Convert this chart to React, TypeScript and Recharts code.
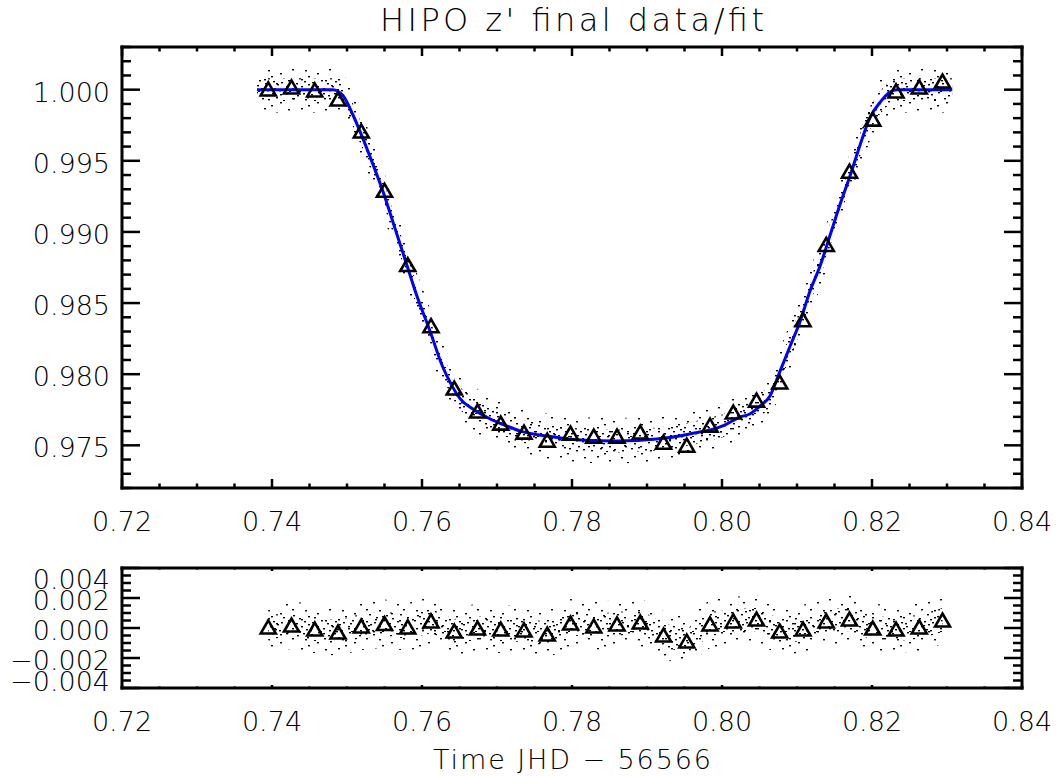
import React from "react";
import { Area, ComposedChart, Line, Scatter, XAxis, YAxis } from "recharts";

// binned points (triangles)
const binTime = [
    0.7395, 0.7426, 0.7457, 0.7488, 0.7519, 0.755, 0.7581, 0.7612, 0.7643, 0.7674,
    0.7705, 0.7736, 0.7767, 0.7798, 0.7829, 0.786, 0.7891, 0.7922, 0.7953, 0.7984,
    0.8015, 0.8046, 0.8077, 0.8108, 0.8139, 0.817, 0.8201, 0.8232, 0.8263, 0.8294,
];
const binFlux = [
    1.00005, 1.00019, 0.99998, 0.99934, 0.99709, 0.99293, 0.98771, 0.98341, 0.97903, 0.97741,
    0.97656, 0.97593, 0.97536, 0.97586, 0.97565, 0.97565, 0.97593, 0.97522, 0.97501, 0.97642,
    0.97734, 0.97818, 0.97945, 0.98383, 0.98912, 0.99427, 0.99793, 0.99991, 1.00019, 1.00061,
];
const binResid = [
    0.00007, 0.0002, -0.00007, -0.00027, 0.00013, 0.0003, 0.00007, 0.00047, -0.0002, 0.0,
    -0.00007, -0.00013, -0.0004, 0.00033, 0.00013, 0.00027, 0.0004, -0.00047, -0.00087, 0.00027,
    0.00047, 0.0006, -0.0002, -0.00007, 0.00047, 0.0006, 0.0, -0.00007, 0.00007, 0.00053,
];

// fitted model (blue curve)
const modelTime = [
    0.738, 0.7481, 0.7495, 0.7508, 0.7521, 0.7535, 0.7548, 0.7564, 0.758, 0.7593,
    0.7611, 0.7627, 0.764, 0.7651, 0.7668, 0.7691, 0.7713, 0.7731, 0.7767, 0.7811,
    0.786, 0.7913, 0.7957, 0.8001, 0.8024, 0.8037, 0.8051, 0.8064, 0.8077, 0.8091,
    0.8104, 0.8117, 0.8131, 0.8144, 0.8157, 0.8171, 0.8184, 0.8197, 0.8211, 0.8224,
    0.8233, 0.8307,
];
const modelFlux = [
    1.0, 1.0, 0.99956, 0.99822, 0.99659, 0.99469, 0.99285, 0.99025, 0.98764, 0.98553,
    0.98299, 0.98059, 0.97918, 0.97827, 0.97755, 0.97685, 0.97636, 0.976, 0.97565, 0.97537,
    0.9753, 0.97544, 0.9758, 0.97636, 0.97699, 0.9772, 0.97777, 0.97847, 0.98016, 0.982,
    0.98369, 0.9858, 0.98764, 0.98975, 0.99187, 0.99398, 0.9961, 0.998, 0.99913, 0.99984,
    1.0, 1.0,
];

// spread of the raw points around the curve (dense core / sparse outer)
const scatterCore = 0.0008;
const scatterOuter = 0.0016;

const xTicks = [
    0.72, 0.725, 0.73, 0.735, 0.74, 0.745, 0.75, 0.755, 0.76, 0.765, 0.77, 0.775, 0.78,
    0.785, 0.79, 0.795, 0.8, 0.805, 0.81, 0.815, 0.82, 0.825, 0.83, 0.835, 0.84,
];
const fluxTicks = [
    0.972, 0.973, 0.974, 0.975, 0.976, 0.977, 0.978, 0.979, 0.98, 0.981, 0.982, 0.983,
    0.984, 0.985, 0.986, 0.987, 0.988, 0.989, 0.99, 0.991, 0.992, 0.993, 0.994, 0.995,
    0.996, 0.997, 0.998, 0.999, 1.0, 1.001, 1.002, 1.003,
];
const residTicks = [
    -0.004, -0.0035, -0.003, -0.0025, -0.002, -0.0015, -0.001, -0.0005, 0, 0.0005, 0.001,
    0.0015, 0.002, 0.0025, 0.003, 0.0035, 0.004,
];

const FONT = "'DejaVu Sans', sans-serif";
const INK = "#000";

const modelRows = modelTime.map((t, i) => ({
    x: t,
    y: modelFlux[i],
    core: [modelFlux[i] - scatterCore, modelFlux[i] + scatterCore],
    outer: [modelFlux[i] - scatterOuter, modelFlux[i] + scatterOuter],
}));
const binRows = binTime.map((t, i) => ({ x: t, y: binFlux[i] }));
const residRows = binTime.map((t, i) => ({
    x: t,
    y: binResid[i],
    core: [binResid[i] - scatterCore, binResid[i] + scatterCore],
    outer: [binResid[i] - scatterOuter, binResid[i] + scatterOuter],
}));

// texture for the point cloud
const coreDots = [
    [1, 2], [8, 0], [18, 3], [24, 1], [4, 8], [14, 6], [20, 9], [28, 5], [2, 13], [11, 11],
    [17, 14], [25, 12], [7, 17], [13, 19], [22, 17], [29, 15], [0, 21], [10, 22], [19, 21], [27, 20],
];
const sparseDots = [
    [3, 4], [15, 1], [27, 6], [9, 12], [21, 15], [33, 11], [5, 21], [17, 25], [29, 22], [35, 27], [12, 18],
];

function onStep(v: number, step: number) {
    const r = v / step;
    return Math.abs(r - Math.round(r)) < 1e-6;
}

function fmtY(v: number) {
    if (Math.abs(v) < 1e-9) return "0.000";
    return v < 0 ? "\u2212" + Math.abs(v).toFixed(3) : v.toFixed(3);
}

function xTick(side: "top" | "bottom", majorLen: number, minorLen: number, label: boolean) {
    return (p: any) => {
        const v = p.payload.value;
        const major = onStep(v, 0.02);
        const len = major ? majorLen : minorLen;
        const dir = side === "bottom" ? -1 : 1;
        return (
            <g>
                <line x1={p.x} x2={p.x} y1={p.y} y2={p.y + dir * len} stroke={INK} strokeWidth={2.5} />
                {label && major && (
                    <text x={p.x} y={p.y + 43} textAnchor="middle" fontSize={27} fontWeight={200} fontFamily={FONT} fill={INK}>
                        {v.toFixed(2)}
                    </text>
                )}
            </g>
        );
    };
}

function yTick(side: "left" | "right", majorStep: number, label: boolean, edge?: number) {
    return (p: any) => {
        const v = p.payload.value;
        const major = onStep(v, majorStep);
        const len = major ? 18 : 9;
        const dir = side === "left" ? 1 : -1;
        let dy = 12;
        if (edge !== undefined && Math.abs(v - edge) < 1e-9) dy = 21;
        if (edge !== undefined && Math.abs(v + edge) < 1e-9) dy = 3;
        return (
            <g>
                <line x1={p.x} x2={p.x + dir * len} y1={p.y} y2={p.y} stroke={INK} strokeWidth={2.5} />
                {label && major && (
                    <text x={p.x - 12} y={p.y + dy} textAnchor="end" fontSize={27} fontWeight={200} fontFamily={FONT} fill={INK}>
                        {fmtY(v)}
                    </text>
                )}
            </g>
        );
    };
}

function Triangle(props: any) {
    const { cx, cy } = props;
    if (cx == null || cy == null) return null;
    return (
        <path
            d={`M${cx - 7.5},${cy + 6.5} L${cx},${cy - 6.5} L${cx + 7.5},${cy + 6.5} Z`}
            fill="none"
            stroke={INK}
            strokeWidth={2.6}
            strokeLinejoin="miter"
        />
    );
}

const frame = { stroke: INK, strokeWidth: 3, strokeLinecap: "square" as const };

function Cloud() {
    return (
        <>
            <Area dataKey="outer" type="linear" stroke="none" fill="url(#cloudSparse)" fillOpacity={1} dot={false} activeDot={false} isAnimationActive={false} />
            <Area dataKey="core" type="linear" stroke="none" fill="url(#cloudCore)" fillOpacity={1} dot={false} activeDot={false} isAnimationActive={false} />
        </>
    );
}

export default function App() {
    return (
        <div style={{ position: "absolute", left: 0, top: 0, width: 1057, height: 776, background: "#fff" }}>
            <svg width={1057} height={776} style={{ position: "absolute", left: 0, top: 0 }}>
                <defs>
                    <pattern id="cloudCore" width={31} height={23} patternUnits="userSpaceOnUse">
                        {coreDots.map(([x, y], i) => (
                            <rect key={i} x={x} y={y} width={2} height={1.4} fill={INK} />
                        ))}
                    </pattern>
                    <pattern id="cloudSparse" width={37} height={29} patternUnits="userSpaceOnUse">
                        {sparseDots.map(([x, y], i) => (
                            <rect key={i} x={x} y={y} width={2} height={1.4} fill={INK} />
                        ))}
                    </pattern>
                </defs>
                <text x={572} y={31} textAnchor="middle" fontSize={32} fontWeight={200} fontFamily={FONT} fill={INK} textLength={384} lengthAdjust="spacing">
                    HIPO z' final data/fit
                </text>
                <text x={572} y={769} textAnchor="middle" fontSize={27} fontWeight={200} fontFamily={FONT} fill={INK} textLength={278} lengthAdjust="spacing">
                    Time JHD {"\u2212"} 56566
                </text>
            </svg>

            <div style={{ position: "absolute", left: 0, top: 0 }}>
                <ComposedChart width={1057} height={545} data={modelRows} margin={{ top: 46, right: 34, bottom: 17, left: 42 }}>
                    <XAxis dataKey="x" type="number" domain={[0.72, 0.84]} allowDataOverflow ticks={xTicks} interval={0} height={40}
                        tickLine={false} tickSize={0} tickMargin={0} axisLine={frame} tick={xTick("bottom", 9, 4.5, true)} />
                    <XAxis xAxisId="top" orientation="top" dataKey="x" type="number" domain={[0.72, 0.84]} allowDataOverflow ticks={xTicks} interval={0} height={1}
                        tickLine={false} tickSize={0} tickMargin={0} axisLine={frame} tick={xTick("top", 9, 4.5, false)} />
                    <YAxis type="number" domain={[0.972, 1.003]} allowDataOverflow ticks={fluxTicks} interval={0} width={80}
                        tickLine={false} tickSize={0} tickMargin={0} axisLine={frame} tick={yTick("left", 0.005, true)} />
                    <YAxis yAxisId="right" orientation="right" type="number" domain={[0.972, 1.003]} allowDataOverflow ticks={fluxTicks} interval={0} width={1}
                        tickLine={false} tickSize={0} tickMargin={0} axisLine={frame} tick={yTick("right", 0.005, false)} />
                    {Cloud()}
                    <Scatter data={binRows} dataKey="y" shape={<Triangle />} isAnimationActive={false} />
                    <Line dataKey="y" type="monotone" stroke="#0000ff" strokeWidth={3} dot={false} activeDot={false} isAnimationActive={false} />
                </ComposedChart>
            </div>

            <div style={{ position: "absolute", left: 0, top: 540 }}>
                <ComposedChart width={1057} height={236} data={residRows} margin={{ top: 27, right: 34, bottom: 48, left: 42 }}>
                    <XAxis dataKey="x" type="number" domain={[0.72, 0.84]} allowDataOverflow ticks={xTicks} interval={0} height={40}
                        tickLine={false} tickSize={0} tickMargin={0} axisLine={frame} tick={xTick("bottom", 3, 1.5, true)} />
                    <XAxis xAxisId="top" orientation="top" dataKey="x" type="number" domain={[0.72, 0.84]} allowDataOverflow ticks={xTicks} interval={0} height={1}
                        tickLine={false} tickSize={0} tickMargin={0} axisLine={frame} tick={xTick("top", 3, 1.5, false)} />
                    <YAxis type="number" domain={[-0.004, 0.004]} allowDataOverflow ticks={residTicks} interval={0} width={80}
                        tickLine={false} tickSize={0} tickMargin={0} axisLine={frame} tick={yTick("left", 0.002, true, 0.004)} />
                    <YAxis yAxisId="right" orientation="right" type="number" domain={[-0.004, 0.004]} allowDataOverflow ticks={residTicks} interval={0} width={1}
                        tickLine={false} tickSize={0} tickMargin={0} axisLine={frame} tick={yTick("right", 0.002, false)} />
                    {Cloud()}
                    <Scatter data={residRows} dataKey="y" shape={<Triangle />} isAnimationActive={false} />
                </ComposedChart>
            </div>
        </div>
    );
}
